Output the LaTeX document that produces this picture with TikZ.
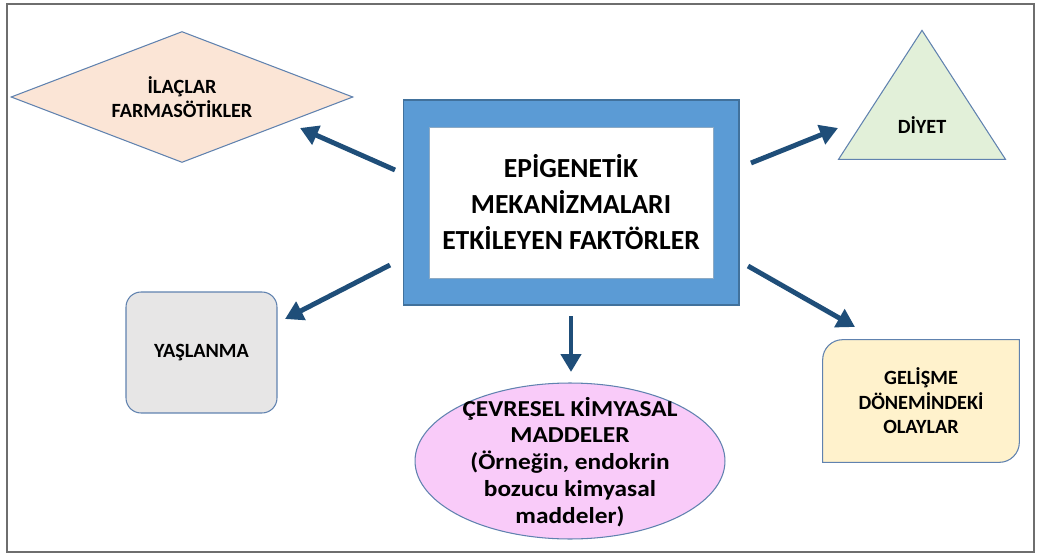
\documentclass[tikz,border=0pt]{standalone}
\usepackage{fontspec}
\setmainfont{Carlito}
\newfontfamily\ellipsefont{Carlito}[FakeStretch=1.11]
\usetikzlibrary{positioning,calc,arrows.meta,shapes.geometric,backgrounds}

\definecolor{frameblue}{RGB}{91,155,213}
\definecolor{frameedge}{RGB}{65,113,156}
\definecolor{arrowblue}{RGB}{31,78,121}
\definecolor{shapeedge}{RGB}{96,130,175}
\definecolor{bordergray}{RGB}{110,110,110}
\definecolor{peach}{RGB}{251,229,214}
\definecolor{palegreen}{RGB}{226,240,217}
\definecolor{palegray}{RGB}{231,230,230}
\definecolor{paleyellow}{RGB}{255,242,204}
\definecolor{palepink}{RGB}{249,203,249}

\begin{document}
\begin{tikzpicture}[x=0.02cm, y=-0.02cm, >={Triangle[length=0.36cm, width=0.4cm]}, lbl/.style={font=\bfseries\fontsize{11.5}{14}\selectfont, align=center, inner sep=0pt}, factor/.style={draw=shapeedge, line width=0.6pt, inner sep=0pt}, arr/.style={->, draw=arrowblue, line width=2.8pt}]

\useasboundingbox (0,0) rectangle (1041,557);
\draw[line width=1.2pt, draw=bordergray] (7,4) rectangle (1034,552);

% center box
\node[draw=frameedge, fill=frameblue, line width=0.6pt, minimum width=6.72cm, minimum height=4.1cm] (frame) at (571,202.5) {};
\node[fill=white, draw=frameedge!60, line width=0.4pt, minimum width=5.68cm, minimum height=3.02cm, align=center, font=\bfseries\fontsize{15.7}{20.5}\selectfont] (title) at (frame.center) {EPİGENETİK\\MEKANİZMALARI\\ETKİLEYEN FAKTÖRLER};

% factors
\node[factor, diamond, aspect=2.6, fill=peach, minimum width=6.84cm, minimum height=2.62cm, lbl] (ilac) at (182,97) {İLAÇLAR\\FARMASÖTİKLER};
\node[factor, isosceles triangle, isosceles triangle stretches, shape border rotate=90, fill=palegreen, minimum width=3.34cm, minimum height=2.58cm, anchor=apex, lbl] (diyet) at (922,29) {DİYET};
\node[factor, fill=palegray, rounded corners=0.3cm, minimum width=3.02cm, minimum height=2.42cm, lbl] (yas) at (201.5,352.5) {YAŞLANMA};
\node[lbl, minimum width=3.92cm, minimum height=2.44cm] (gel) at (921,401) {GELİŞME\\DÖNEMİNDEKİ\\OLAYLAR};
\begin{scope}[on background layer]
  \draw[factor, fill=paleyellow] (gel.west) [rounded corners=0.4cm] -- (gel.north west) -- (gel.north) [sharp corners] -- (gel.north east) -- (gel.east) [rounded corners=0.4cm] -- (gel.south east) -- (gel.south) [sharp corners] -- (gel.south west) -- cycle;
\end{scope}
\node[factor, ellipse, fill=palepink, minimum width=6.2cm, minimum height=3.12cm] (cevre) at (570,461) {};
\node[lbl, font=\ellipsefont\bfseries\fontsize{13}{15.3}\selectfont] (cevretxt) at (570,462) {ÇEVRESEL KİMYASAL\\MADDELER\\(Örneğin, endokrin\\bozucu kimyasal\\maddeler)};

% arrow ends
\coordinate (a1s) at (395,170);
\coordinate (a1e) at (300,128);
\coordinate (a2s) at (751,163);
\coordinate (a2e) at (838,128);
\coordinate (a3s) at (390,265);
\coordinate (a3e) at (285,319);
\coordinate (a4s) at (748,266);
\coordinate (a4e) at (855,327);
\coordinate (a5s) at (571,316);
\coordinate (a5e) at (571,372);

\draw[arr] (a1s) -- (a1e);
\draw[arr] (a2s) -- (a2e);
\draw[arr] (a3s) -- (a3e);
\draw[arr] (a4s) -- (a4e);
\draw[arr] (a5s) -- (a5e);
\end{tikzpicture}
\end{document}
